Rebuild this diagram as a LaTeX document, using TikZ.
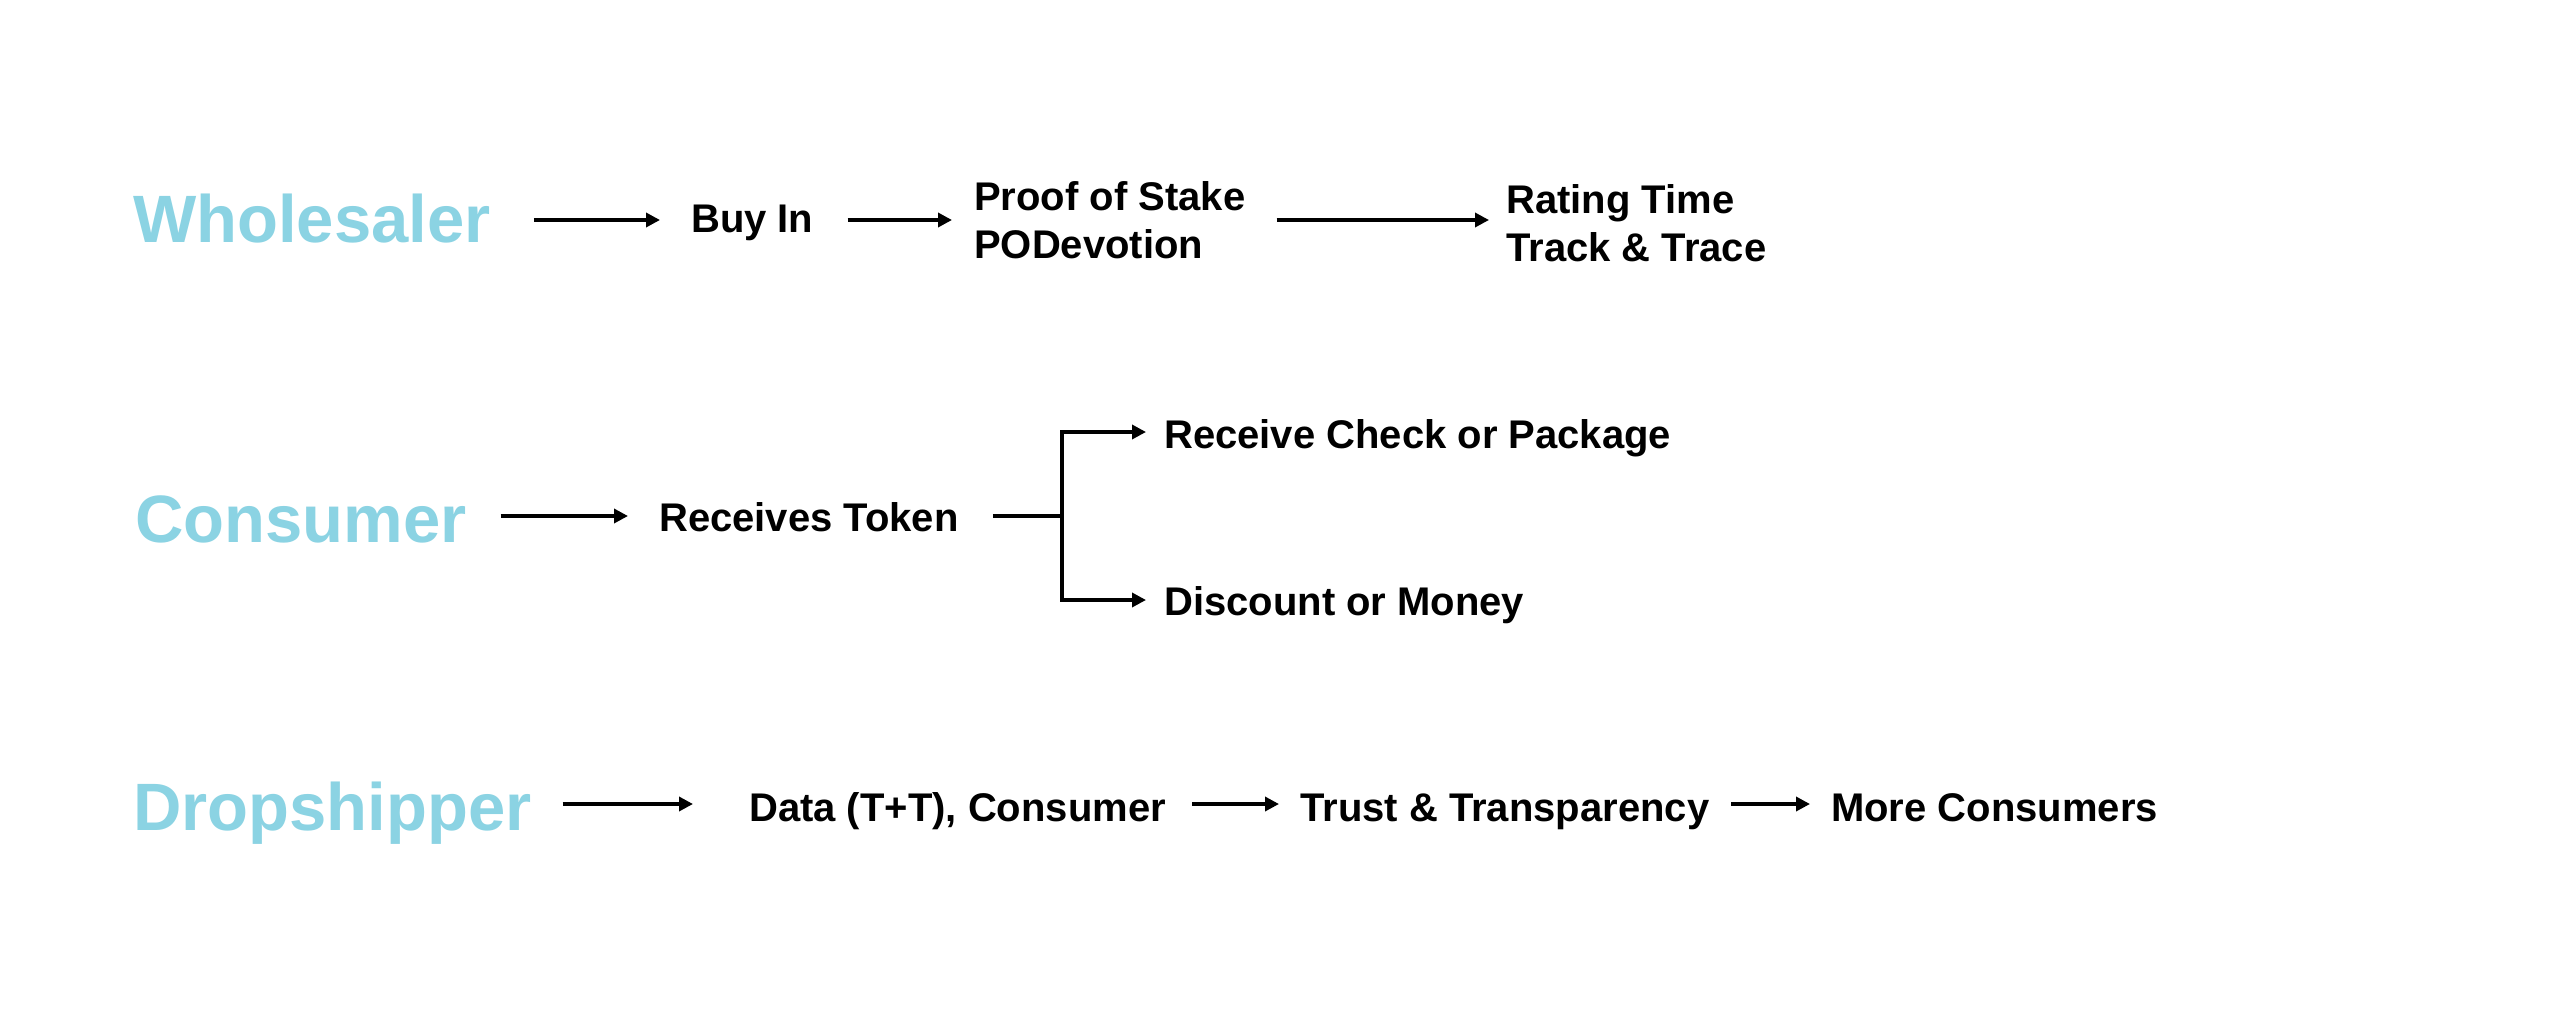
\documentclass[tikz,border=0pt]{standalone}
\usepackage{fontspec}
\setmainfont{Liberation Sans}
\usetikzlibrary{arrows.meta,calc}
\definecolor{titleblue}{HTML}{8BD3E3}
\begin{document}
\begin{tikzpicture}[x=1pt,y=-1pt,
  title/.style={anchor=base west,inner sep=0pt,text=titleblue,font=\fontsize{67}{80}\selectfont\bfseries},
  lbl/.style={anchor=base west,inner sep=0pt,font=\fontsize{40}{48}\selectfont\bfseries,align=left},
  arr/.style={line width=3.4pt,-{Triangle[length=14pt,width=14pt]}},
  ln/.style={line width=3.4pt}]
\useasboundingbox[fill=white] (0,0) rectangle (2558,1030);
% row guides
\coordinate (r1) at (0,220);
\coordinate (r2) at (0,516);
\coordinate (r3) at (0,804);
\coordinate (rTop) at (0,432);
\coordinate (rBot) at (0,600);
% row 1
\node[title] (who) at (133,242) {Wholesaler};
\node[lbl] (buy) at (691,232) {Buy In};
\node[lbl] (pos) at (974,258) {Proof of Stake\\PODevotion};
\node[lbl] (rat) at (1506,261) {Rating Time\\Track \& Trace};
% row 2
\node[title] (con) at (135,542) {Consumer};
\node[lbl] (tok) at (659,531) {Receives Token};
\node[lbl] (rcp) at (1164,448) {Receive Check or Package};
\node[lbl] (dis) at (1164,615) {Discount or Money};
% row 3
\node[title] (drop) at (133,830) {Dropshipper};
\node[lbl] (dat) at (749,821) {Data (T+T), Consumer};
\node[lbl] (tru) at (1300,821) {Trust \& Transparency};
\node[lbl] (mor) at (1831,821) {More Consumers};
% connectors row 1
\draw[arr] ($(who.east|-r1)+(43,0)$) -- ($(buy.west|-r1)+(-31,0)$);
\draw[arr] ($(buy.east|-r1)+(34,0)$) -- ($(pos.west|-r1)+(-22,0)$);
\draw[arr] ($(pos.east|-r1)+(31,0)$) -- ($(rat.west|-r1)+(-17,0)$);
% connectors row 2
\draw[arr] ($(con.east|-r2)+(34,0)$) -- ($(tok.west|-r2)+(-31,0)$);
\coordinate (br) at (1062,516);
\draw[ln] ($(tok.east|-r2)+(34,0)$) -- (br);
\draw[arr] (br) |- ($(rcp.west|-rTop)+(-18,0)$);
\draw[arr] (br) |- ($(dis.west|-rBot)+(-18,0)$);
% connectors row 3
\draw[arr] ($(drop.east|-r3)+(31,0)$) -- ($(dat.west|-r3)+(-56,0)$);
\draw[arr] ($(dat.east|-r3)+(26,0)$) -- ($(tru.west|-r3)+(-21,0)$);
\draw[arr] ($(tru.east|-r3)+(22,0)$) -- ($(mor.west|-r3)+(-21,0)$);
\end{tikzpicture}
\end{document}
